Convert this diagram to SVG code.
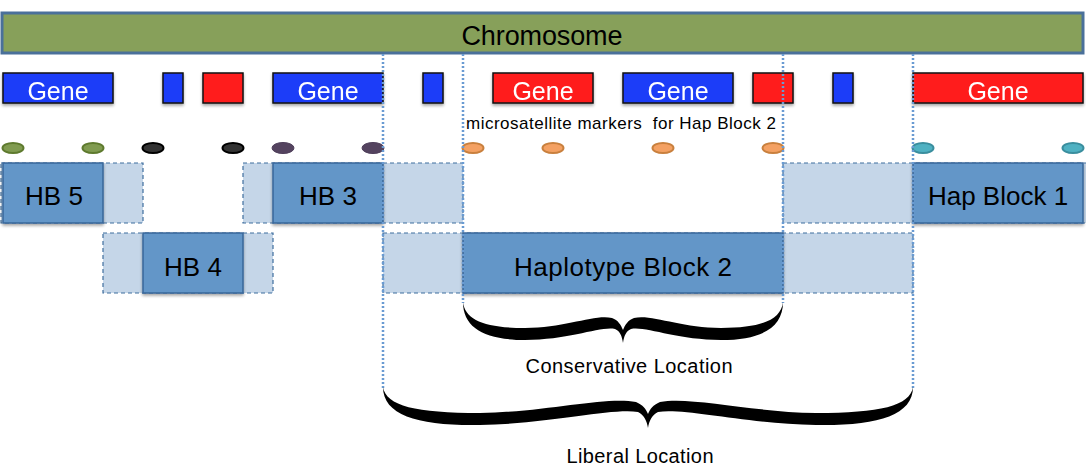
<svg xmlns="http://www.w3.org/2000/svg" width="1086" height="472" viewBox="0 0 1086 472">
<style>
.lbl{font-family:"Liberation Sans",Arial,sans-serif;fill:#000;text-anchor:middle}
.gtxt{font-family:"Liberation Sans",Arial,sans-serif;fill:#fff;font-size:25px;text-anchor:middle}
.blue{fill:#1B3CF8;stroke:#111;stroke-width:1.5}
.red{fill:#FF1E1E;stroke:#111;stroke-width:1.5}
.dark{fill:#6496C8;stroke:#38679A;stroke-width:1.5}
.light{fill:#C5D6E8;stroke:#3F6E9E;stroke-width:1.2;stroke-dasharray:4 3}
.vline{stroke:#6A9BD2;stroke-width:2.5;stroke-dasharray:2 2;fill:none}
.brace{fill:#000}
.mg{fill:#809B50;stroke:#5E7A2E;stroke-width:2}
.mk{fill:#333;stroke:#000;stroke-width:2}
.mp{fill:#54435F;stroke:#4D3D59;stroke-width:1}
.mo{fill:#F4A163;stroke:#C9803E;stroke-width:2}
.mt{fill:#4FB1C2;stroke:#3A8E9E;stroke-width:2}
</style>
<defs>
<filter id="sh" x="-10%" y="-20%" width="120%" height="150%">
<feDropShadow dx="0" dy="2" stdDeviation="1.5" flood-color="#000" flood-opacity="0.35"/>
</filter>
</defs>

<g id="chromosome">
<rect x="2" y="13" width="1081" height="40" fill="#87A05A" stroke="#4A709A" stroke-width="3"/>
<text class="lbl" x="542" y="45" font-size="27" textLength="161">Chromosome</text>
</g>

<g id="genes" filter="url(#sh)">
<g id="gene1"><rect class="blue" x="3" y="73" width="110" height="30"/><text class="gtxt" x="58" y="100">Gene</text></g>
<g id="gene2"><rect class="blue" x="163" y="73" width="20" height="30"/></g>
<g id="gene3"><rect class="red" x="203" y="73" width="40" height="30"/></g>
<g id="gene4"><rect class="blue" x="273" y="73" width="110" height="30"/><text class="gtxt" x="328" y="100">Gene</text></g>
<g id="gene5"><rect class="blue" x="423" y="73" width="20" height="30"/></g>
<g id="gene6"><rect class="red" x="493" y="73" width="100" height="30"/><text class="gtxt" x="543" y="100">Gene</text></g>
<g id="gene7"><rect class="blue" x="623" y="73" width="110" height="30"/><text class="gtxt" x="678" y="100">Gene</text></g>
<g id="gene8"><rect class="red" x="753" y="73" width="40" height="30"/></g>
<g id="gene9"><rect class="blue" x="833" y="73" width="20" height="30"/></g>
<g id="gene10"><rect class="red" x="913" y="73" width="170" height="30"/><text class="gtxt" x="998" y="100">Gene</text></g>
</g>

<g id="markers">
<ellipse class="mg" cx="13" cy="148" rx="10.5" ry="5"/>
<ellipse class="mg" cx="93" cy="148" rx="10.5" ry="5"/>
<ellipse class="mk" cx="153" cy="148" rx="10.5" ry="5"/>
<ellipse class="mk" cx="233" cy="148" rx="10.5" ry="5"/>
<ellipse class="mp" cx="283" cy="148" rx="11" ry="5.5"/>
<ellipse class="mp" cx="373" cy="148" rx="11" ry="5.5"/>
<ellipse class="mo" cx="473" cy="148" rx="10.5" ry="5"/>
<ellipse class="mo" cx="553" cy="148" rx="10.5" ry="5"/>
<ellipse class="mo" cx="663" cy="148" rx="10.5" ry="5"/>
<ellipse class="mo" cx="773" cy="148" rx="10.5" ry="5"/>
<ellipse class="mt" cx="923" cy="148" rx="10.5" ry="5"/>
<ellipse class="mt" cx="1073" cy="148" rx="10.5" ry="5"/>
<text class="lbl" x="621" y="129" font-size="17" textLength="310" style="white-space:pre" xml:space="preserve">microsatellite markers  for Hap Block 2</text>
</g>

<g id="hb5">
<rect class="light" x="1" y="163" width="142" height="60"/>
<rect class="dark" x="3" y="163" width="100" height="60" filter="url(#sh)"/>
<text class="lbl" x="54" y="205" font-size="26">HB 5</text>
</g>
<g id="hb3">
<rect class="light" x="243" y="163" width="220" height="60"/>
<rect class="dark" x="273" y="163" width="110" height="60" filter="url(#sh)"/>
<text class="lbl" x="328" y="205" font-size="26">HB 3</text>
</g>
<g id="hb1">
<rect class="light" x="783" y="163" width="310" height="60"/>
<rect class="dark" x="913" y="163" width="170" height="60" filter="url(#sh)"/>
<text class="lbl" x="998" y="205" font-size="26">Hap Block 1</text>
</g>
<g id="hb4">
<rect class="light" x="103" y="233" width="170" height="60"/>
<rect class="dark" x="143" y="233" width="100" height="60" filter="url(#sh)"/>
<text class="lbl" x="193" y="276" font-size="26">HB 4</text>
</g>
<g id="hb2">
<rect class="light" x="383" y="233" width="530" height="60"/>
<rect class="dark" x="463" y="233" width="320" height="60" filter="url(#sh)"/>
<text class="lbl" x="623" y="276" font-size="26" textLength="218">Haplotype Block 2</text>
</g>

<g id="connectors">
<line class="vline" x1="383" y1="54" x2="383" y2="388"/>
<line class="vline" x1="463" y1="54" x2="463" y2="303"/>
<line class="vline" x1="783" y1="54" x2="783" y2="303"/>
<line class="vline" x1="913" y1="54" x2="913" y2="388"/>
</g>

<g id="conservative">
<path class="brace" d="M463 302 C463 328 485 340 525 340 C570 340 600 326 615 329 C620 331 622 336 623 343 C624 336 626 331 631 329 C646 326 676 340 721 340 C761 340 783 328 783 302 C781 320 761 328 721 328 C680 328 652 314 634 318 C628 320 625 325 623 330 C621 325 618 320 612 318 C594 314 566 328 525 328 C485 328 465 320 463 302 Z"/>
<text class="lbl" x="629" y="373" font-size="20" textLength="207">Conservative Location</text>
</g>

<g id="liberal">
<path class="brace" d="M383 387 C383 416 420 426 480 425 C550 424 610 408 638 412 C644 415 647 421 648 428 C649 421 652 415 658 412 C686 408 746 424 816 425 C876 426 913 416 913 387 C910 406 880 413 816 413 C750 412 690 396 660 402 C653 405 650 409 648 414 C646 409 643 405 636 402 C606 396 546 412 480 413 C416 413 386 406 383 387 Z"/>
<text class="lbl" x="640" y="463" font-size="20" textLength="147">Liberal Location</text>
</g>
</svg>
